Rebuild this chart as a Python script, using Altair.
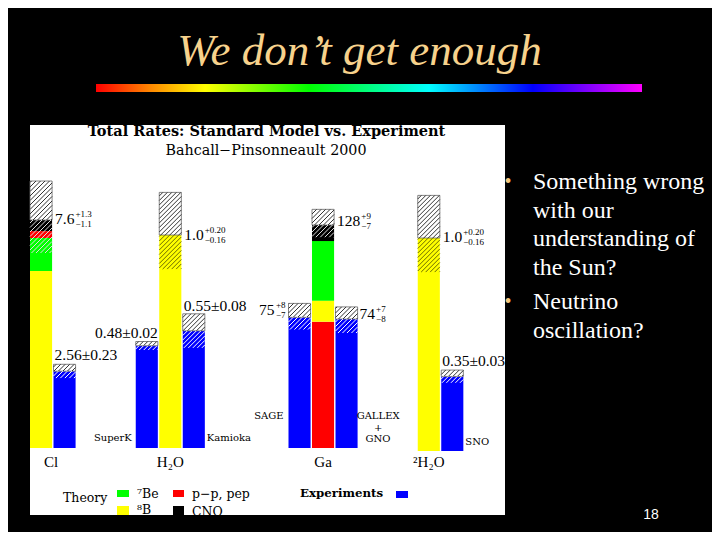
import math
import altair as alt
import pandas as pd

# ------------------------------------------------------------------ data
groups = ["Cl", "H₂O", "Ga", "²H₂O"]
# theory stacks, bottom -> top (SNU for Cl and Ga, fraction of SSM for H2O and D2O)
theory_parts = [["8B", "7Be", "pp", "CNO"], ["8B"], ["pp", "8B", "7Be", "CNO"], ["8B"]]
theory_vals = [[5.9, 1.1, 0.23, 0.37], [1.0], [72.5, 12.1, 34.2, 9.2], [1.0]]
theory_total = [7.6, 1.0, 128, 1.0]
theory_plus = [1.3, 0.20, 9, 0.20]
theory_minus = [1.1, 0.16, 7, 0.16]
theory_text = ["7.6", "1.0", "128", "1.0"]
theory_sup = ["+1.3", "+0.20", "+9", "+0.20"]
theory_sub = ["−1.1", "−0.16", "−7", "−0.16"]

exp_names = ["Homestake", "SuperK", "Kamioka", "SAGE", "GALLEX+GNO", "SNO"]
exp_group = [0, 1, 1, 2, 2, 3]
exp_value = [2.56, 0.48, 0.55, 75, 74, 0.35]
exp_plus = [0.23, 0.02, 0.08, 8, 7, 0.03]
exp_minus = [0.23, 0.02, 0.08, 7, 8, 0.03]
exp_text = ["2.56±0.23", "0.48±0.02", "0.55±0.08", "75", "74", "0.35±0.03"]
exp_sup = ["", "", "", "+8", "+7", ""]
exp_sub = ["", "", "", "−7", "−8", ""]

part_names = {"7Be": "⁷Be", "pp": "p−p, pep", "8B": "⁸B", "CNO": "CNO"}
part_color = {"8B": "#FFFF00", "7Be": "#00FF00", "pp": "#FF0000", "CNO": "#000000"}
EXP_COLOR = "#0000FF"

slide_title = "We don’t get enough"
chart_title = "Total Rates: Standard Model vs. Experiment"
chart_subtitle = "Bahcall−Pinsonneault 2000"
bullet_lines = [["Something wrong", "with our", "understanding of", "the Sun?"],
                ["Neutrino", "oscillation?"]]
page_number = "18"

# ------------------------------------------------------------------ layout
VIEW_W, VIEW_H = 475, 390
PX_SLOT = 23.5
BAR_W = 0.94
HATCH = 4.5
group_start = [0, 4.5, 11, 16.5]
theory_offset = [0, 1, 1, 0]
exp_offset = [1, 0, 2, 0, 2, 1]
px_per_unit = [30, 213, 1.742, 213]
base_px = [323, 323, 323, 326]
theory_dy = [-1, 0, -4, -1]
exp_mode = ["above_left", "above_right", "above_left", "left", "right", "above_left"]
exp_dy = [-9, -9, -8, -7, -5, -9]
group_label_slot = [0.9, 5.97, 12.47, 16.97]
NUM_SIZE = 15.5

FONT_NUM = "Liberation Serif"
FONT_CH = "DejaVu Serif"

xs = alt.Scale(domain=[0, VIEW_W / PX_SLOT], nice=False, zero=False)
one = pd.DataFrame({"a": [0]})


def text_width(s, size):
    w = 0
    for ch in s:
        w += 0.25 if ch in ".," else 0.5
    return w * size


def hatch(x_left, lo, hi, k, color):
    w = BAR_W * PX_SLOT
    ylo, yhi = lo * k, hi * k
    rows = []
    for n in range(math.floor(-yhi / HATCH) - 1, math.ceil((w - ylo) / HATCH) + 2):
        c = n * HATCH
        xa = max(0.0, ylo + c)
        xb = min(w, yhi + c)
        if xb - xa > 0.3:
            rows.append(dict(x=x_left + xa / PX_SLOT, x2=x_left + xb / PX_SLOT,
                             y=(xa - c) / k, y2=(xb - c) / k, c=color))
    return rows


def group_chart(g):
    k = px_per_unit[g]
    ys = alt.Scale(domain=[-(VIEW_H - base_px[g]) / k, base_px[g] / k], nice=False, zero=False)

    def X(f):
        return alt.X(f, type="quantitative", scale=xs, axis=None)

    def Y(f):
        return alt.Y(f, type="quantitative", scale=ys, axis=None)

    fills, boxes, lines = [], [], []
    texts = []
    tl = group_start[g] + theory_offset[g]
    cum = 0
    for p, v in zip(theory_parts[g], theory_vals[g]):
        fills.append(dict(x=tl, x2=tl + BAR_W, y=cum, y2=cum + v, c=part_color[p]))
        cum += v
    T = theory_total[g]
    top_part = theory_parts[g][-1]
    boxes.append(dict(x=tl, x2=tl + BAR_W, y=T, y2=T + theory_plus[g]))
    lines += hatch(tl, T, T + theory_plus[g], k, "#333333")
    lines += hatch(tl, T - theory_minus[g], T, k,
                   "#6b6b00" if top_part == "8B" else "#dddddd")
    mw = text_width(theory_text[g], NUM_SIZE)
    texts.append(dict(x=tl + BAR_W, y=T, t=theory_text[g], size=NUM_SIZE, align="left", dx=3, dy=theory_dy[g]))
    texts.append(dict(x=tl + BAR_W, y=T, t=theory_sup[g], size=9, align="left", dx=4 + mw, dy=theory_dy[g] - 5))
    texts.append(dict(x=tl + BAR_W, y=T, t=theory_sub[g], size=9, align="left", dx=4 + mw, dy=theory_dy[g] + 5))

    for i in range(len(exp_names)):
        if exp_group[i] != g:
            continue
        el = group_start[g] + exp_offset[i]
        v, hi, lo = exp_value[i], exp_value[i] + exp_plus[i], exp_value[i] - exp_minus[i]
        fills.append(dict(x=el, x2=el + BAR_W, y=0, y2=v, c=EXP_COLOR))
        boxes.append(dict(x=el, x2=el + BAR_W, y=v, y2=hi))
        lines += hatch(el, v, hi, k, "#333333")
        lines += hatch(el, lo, v, k, "#ffffff")
        m = exp_mode[i]
        if m == "above_left":
            texts.append(dict(x=el, y=hi, t=exp_text[i], size=NUM_SIZE, align="left", dx=1, dy=exp_dy[i]))
        elif m == "above_right":
            texts.append(dict(x=el + BAR_W, y=hi, t=exp_text[i], size=NUM_SIZE, align="right", dx=0, dy=exp_dy[i]))
        elif m == "left":
            sw = text_width(exp_sup[i], 9)
            texts.append(dict(x=el, y=v, t=exp_text[i], size=NUM_SIZE, align="right", dx=-5 - sw, dy=exp_dy[i]))
            texts.append(dict(x=el, y=v, t=exp_sup[i], size=9, align="right", dx=-3, dy=exp_dy[i] - 5))
            texts.append(dict(x=el, y=v, t=exp_sub[i], size=9, align="right", dx=-3, dy=exp_dy[i] + 5))
        else:
            mw = text_width(exp_text[i], NUM_SIZE)
            texts.append(dict(x=el + BAR_W, y=v, t=exp_text[i], size=NUM_SIZE, align="left", dx=2, dy=exp_dy[i]))
            texts.append(dict(x=el + BAR_W, y=v, t=exp_sup[i], size=9, align="left", dx=3 + mw, dy=exp_dy[i] - 5))
            texts.append(dict(x=el + BAR_W, y=v, t=exp_sub[i], size=9, align="left", dx=3 + mw, dy=exp_dy[i] + 5))

    layers = [
        alt.Chart(pd.DataFrame(fills)).mark_rect().encode(
            x=X("x"), x2="x2", y=Y("y"), y2="y2", color=alt.Color("c:N", scale=None)),
        alt.Chart(pd.DataFrame(boxes)).mark_rect(fill="white", stroke="#666666", strokeWidth=0.8).encode(
            x=X("x"), x2="x2", y=Y("y"), y2="y2"),
        alt.Chart(pd.DataFrame(lines)).mark_rule(strokeWidth=1).encode(
            x=X("x"), x2="x2", y=Y("y"), y2="y2", color=alt.Color("c:N", scale=None)),
    ]
    for tr in texts:
        layers.append(
            alt.Chart(pd.DataFrame([tr])).mark_text(
                font=FONT_NUM, fontSize=tr["size"], align=tr["align"], baseline="middle",
                dx=tr["dx"], dy=tr["dy"], color="black").encode(
                x=X("x"), y=Y("y"), text="t:N"))
    layers.append(
        alt.Chart(pd.DataFrame([dict(x=group_label_slot[g], t=groups[g])])).mark_text(
            font=FONT_NUM, fontSize=15, align="center", baseline="middle", color="black").encode(
            x=X("x"), y=alt.value(337), text="t:N"))
    return alt.layer(*layers)


def det_label(i, t, align, right_edge, dx, yv):
    el = group_start[exp_group[i]] + exp_offset[i] + (BAR_W if right_edge else 0)
    return alt.Chart(pd.DataFrame([dict(x=el, t=t)])).mark_text(
        font=FONT_CH, fontSize=10, align=align, baseline="middle", dx=dx, color="black").encode(
        x=alt.X("x:Q", scale=xs, axis=None), y=alt.value(yv), text="t:N")


def deco_text(t, x, y, **kw):
    return alt.Chart(one).mark_text(**kw).encode(x=alt.value(x), y=alt.value(y), text=alt.value(t))


def deco_rect(x, x2, y, y2, **kw):
    return alt.Chart(one).mark_rect(**kw).encode(
        x=alt.value(x), x2=alt.value(x2), y=alt.value(y), y2=alt.value(y2))


layers = [group_chart(g) for g in range(4)]

# detector names
layers += [
    det_label(1, "SuperK", "right", False, -4, 313),
    det_label(2, "Kamioka", "left", True, 2, 313),
    det_label(3, "SAGE", "right", False, -5, 291),
    det_label(4, "GALLEX", "center", True, 20.5, 291),
    det_label(4, "+", "center", True, 20.5, 303),
    det_label(4, "GNO", "center", True, 20.5, 314),
    det_label(5, "SNO", "left", True, 2, 317),
]

# titles inside the panel
layers += [
    deco_text(chart_title, 236.5, 7, font=FONT_CH, fontSize=14.5, fontWeight="bold",
              align="center", baseline="middle", color="black"),
    deco_text(chart_subtitle, 236, 26, font=FONT_CH, fontSize=14.3,
              align="center", baseline="middle", color="black"),
]

# legend
layers += [
    deco_text("Theory", 33, 373, font=FONT_CH, fontSize=12.5, align="left", baseline="middle", color="black"),
    deco_rect(87, 99, 365, 372, color=part_color["7Be"]),
    deco_text(part_names["7Be"], 107, 369, font=FONT_CH, fontSize=12.5, align="left", baseline="middle", color="black"),
    deco_rect(143, 154, 365, 372, color=part_color["pp"]),
    deco_text(part_names["pp"], 162, 369, font=FONT_CH, fontSize=12.5, align="left", baseline="middle", color="black"),
    deco_rect(87, 99, 381, 390, color=part_color["8B"]),
    deco_text(part_names["8B"], 107, 385, font=FONT_CH, fontSize=12.5, align="left", baseline="middle", color="black"),
    deco_rect(143, 154, 381, 390, color=part_color["CNO"]),
    deco_text(part_names["CNO"], 162, 387, font=FONT_CH, fontSize=12.5, align="left", baseline="middle", color="black"),
    deco_text("Experiments", 270, 368, font=FONT_CH, fontSize=11.8, fontWeight="bold",
              align="left", baseline="middle", color="black"),
    deco_rect(366, 378, 366, 373, color=EXP_COLOR),
]

# slide decorations
rainbow = {
    "gradient": "linear", "x1": 0, "x2": 1, "y1": 0, "y2": 0,
    "stops": [
        {"offset": 0.0, "color": "#ff0000"},
        {"offset": 0.1, "color": "#ff8800"},
        {"offset": 0.2, "color": "#ffff00"},
        {"offset": 0.39, "color": "#00ff00"},
        {"offset": 0.61, "color": "#00ffff"},
        {"offset": 0.8, "color": "#0000ff"},
        {"offset": 1.0, "color": "#ff00ff"},
    ],
}
layers += [
    deco_text(slide_title, 329.5, -60, font="Liberation Serif", fontSize=45, fontStyle="italic",
              align="center", baseline="alphabetic", color="#F7D28C"),
    deco_rect(66, 612, -41, -33, color=rainbow),
]
bullet_y = [[57, 86, 114, 143], [177, 206]]
for lines_, ys_ in zip(bullet_lines, bullet_y):
    layers.append(deco_text("•", 478, ys_[0], font="Liberation Serif", fontSize=20,
                            align="center", baseline="middle", color="#F5C77E"))
    for t, yv in zip(lines_, ys_):
        layers.append(deco_text(t, 503, yv, font="Liberation Serif", fontSize=24,
                                align="left", baseline="middle", color="white"))
layers.append(deco_text(page_number, 621, 390, font="Liberation Sans", fontSize=14,
                        align="center", baseline="middle", color="white"))

chart = alt.layer(*layers).resolve_scale(y="independent").properties(
    width=VIEW_W, height=VIEW_H, background="black",
    autosize=alt.AutoSizeParams(type="none"),
    padding={"left": 22, "top": 117, "right": 207, "bottom": 17},
).configure_view(stroke=None, fill="white")

chart.save("out.html", embed_options={"renderer": "svg", "actions": False})
